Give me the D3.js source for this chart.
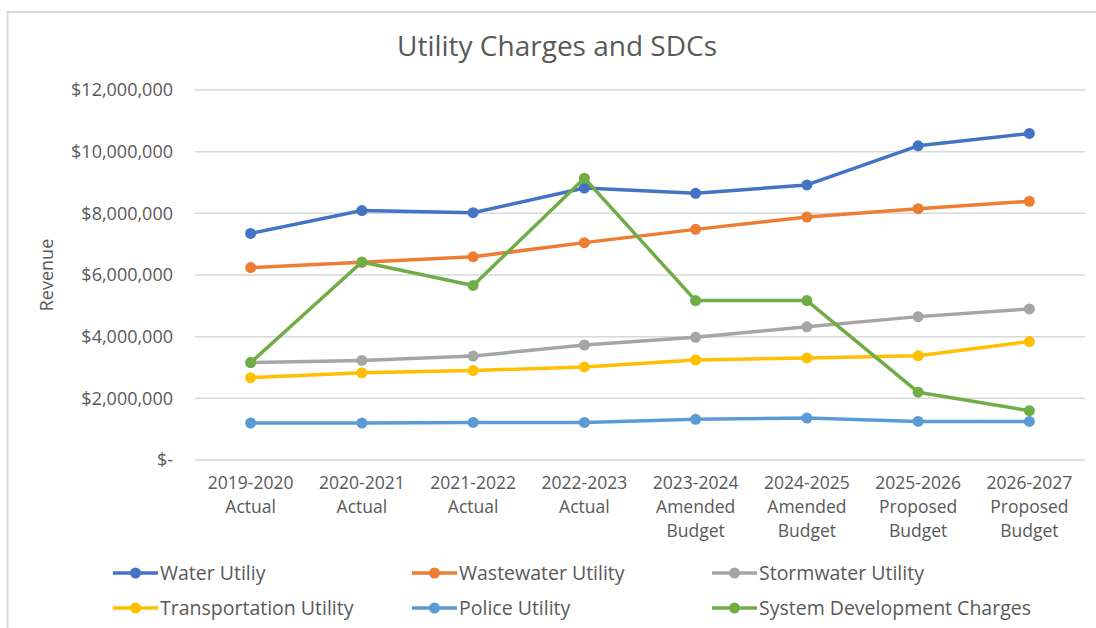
<!DOCTYPE html>
<html>
<head>
<meta charset="utf-8">
<script src="https://cdn.jsdelivr.net/npm/d3@7"></script>
<style>
  body { margin: 0; background: #fff; }
  text { font-family: "Open Sans", "Liberation Sans", Arial, sans-serif; fill: #595959; }
</style>
</head>
<body>
<div id="chart"></div>
<script>
// categories and series values
const categories = [
    ["2019-2020", "Actual"],
    ["2020-2021", "Actual"],
    ["2021-2022", "Actual"],
    ["2022-2023", "Actual"],
    ["2023-2024", "Amended", "Budget"],
    ["2024-2025", "Amended", "Budget"],
    ["2025-2026", "Proposed", "Budget"],
    ["2026-2027", "Proposed", "Budget"]
];
const seriesNames = ["Water Utiliy", "Wastewater Utility", "Stormwater Utility",
    "Transportation Utility", "Police Utility", "System Development Charges"];
const water = [7350000, 8090000, 8020000, 8820000, 8650000, 8920000, 10190000, 10590000];
const wastewater = [6240000, 6410000, 6590000, 7050000, 7480000, 7880000, 8150000, 8390000];
const stormwater = [3160000, 3230000, 3370000, 3730000, 3980000, 4320000, 4650000, 4900000];
const transportation = [2670000, 2830000, 2900000, 3020000, 3240000, 3310000, 3380000, 3840000];
const police = [1200000, 1200000, 1220000, 1220000, 1320000, 1360000, 1250000, 1250000];
const sdc = [3160000, 6420000, 5660000, 9140000, 5170000, 5170000, 2200000, 1600000];
const yTicks = [0, 2000000, 4000000, 6000000, 8000000, 10000000, 12000000];
const colors = ["#4472C4", "#ED7D31", "#A5A5A5", "#FFC000", "#5B9BD5", "#70AD47"];

const allSeries = [water, wastewater, stormwater, transportation, police, sdc];

const width = 1096, height = 628;
const svg = d3.select("#chart").append("svg")
    .attr("width", width)
    .attr("height", height);

// chart frame
svg.append("rect")
    .attr("x", 7.5).attr("y", 12)
    .attr("width", 1200).attr("height", 700)
    .attr("fill", "none")
    .attr("stroke", "#D9D9D9")
    .attr("stroke-width", 2);

const x = d3.scaleBand()
    .domain(d3.range(categories.length))
    .range([195, 1085]);

const y = d3.scaleLinear()
    .domain([0, 12000000])
    .range([460, 90]);

// gridlines
svg.append("g")
    .selectAll("line")
    .data(yTicks)
    .enter()
    .append("line")
    .attr("x1", 195).attr("x2", 1085)
    .attr("y1", d => y(d)).attr("y2", d => y(d))
    .attr("stroke", "#D9D9D9")
    .attr("stroke-width", 1.5);

// y axis labels
const fmt = d3.format(",");
const yAxis = d3.axisLeft(y)
    .tickValues(yTicks)
    .tickSize(0)
    .tickPadding(22)
    .tickFormat(d => d === 0 ? "$-" : "$" + fmt(d));

const yAxisGroup = svg.append("g")
    .attr("transform", "translate(195,0)")
    .call(yAxis);
yAxisGroup.select(".domain").remove();
yAxisGroup.selectAll("text")
    .style("font-family", '"Open Sans", sans-serif')
    .style("font-size", "18px")
    .attr("fill", "#595959");

// x axis labels (multi-line)
const xAxis = d3.axisBottom(x).tickSize(0).tickFormat("");
const xAxisGroup = svg.append("g")
    .attr("transform", "translate(0,460)")
    .call(xAxis);
xAxisGroup.select(".domain").remove();

xAxisGroup.selectAll(".tick")
    .append("text")
    .attr("text-anchor", "middle")
    .style("font-family", '"Open Sans", sans-serif')
    .style("font-size", "17.5px")
    .selectAll("tspan")
    .data(i => categories[i])
    .enter()
    .append("tspan")
    .attr("x", 0)
    .attr("y", (d, j) => 29 + j * 24)
    .text(d => d);

// title
svg.append("text")
    .attr("x", 557)
    .attr("y", 56)
    .attr("text-anchor", "middle")
    .style("font-size", "28px")
    .text("Utility Charges and SDCs");

// y axis title
svg.append("text")
    .attr("transform", "translate(53,275) rotate(-90)")
    .attr("text-anchor", "middle")
    .style("font-size", "18px")
    .text("Revenue");

// lines + markers
const line = d3.line()
    .x((d, i) => x(i) + x.bandwidth() / 2)
    .y(d => y(d));

allSeries.forEach((vals, s) => {
    const g = svg.append("g");
    g.append("path")
        .datum(vals)
        .attr("d", line)
        .attr("fill", "none")
        .attr("stroke", colors[s])
        .attr("stroke-width", 3.5)
        .attr("stroke-linejoin", "round");
    g.selectAll("circle")
        .data(vals)
        .enter()
        .append("circle")
        .attr("cx", (d, i) => x(i) + x.bandwidth() / 2)
        .attr("cy", d => y(d))
        .attr("r", 5.5)
        .attr("fill", colors[s]);
});

// legend
const legendX = [113, 412, 712];
const legendY = [573, 608];
const legend = svg.append("g");
const items = legend.selectAll("g")
    .data(seriesNames)
    .enter()
    .append("g")
    .attr("transform", (d, i) => `translate(${legendX[i % 3]},${legendY[Math.floor(i / 3)]})`);

items.append("line")
    .attr("x1", 0).attr("x2", 45)
    .attr("stroke", (d, i) => colors[i])
    .attr("stroke-width", 3.5);
items.append("circle")
    .attr("cx", 22.5)
    .attr("r", 5.5)
    .attr("fill", (d, i) => colors[i]);
items.append("text")
    .attr("x", 47)
    .attr("dy", "0.35em")
    .style("font-size", "19.5px")
    .text(d => d);
</script>
</body>
</html>
